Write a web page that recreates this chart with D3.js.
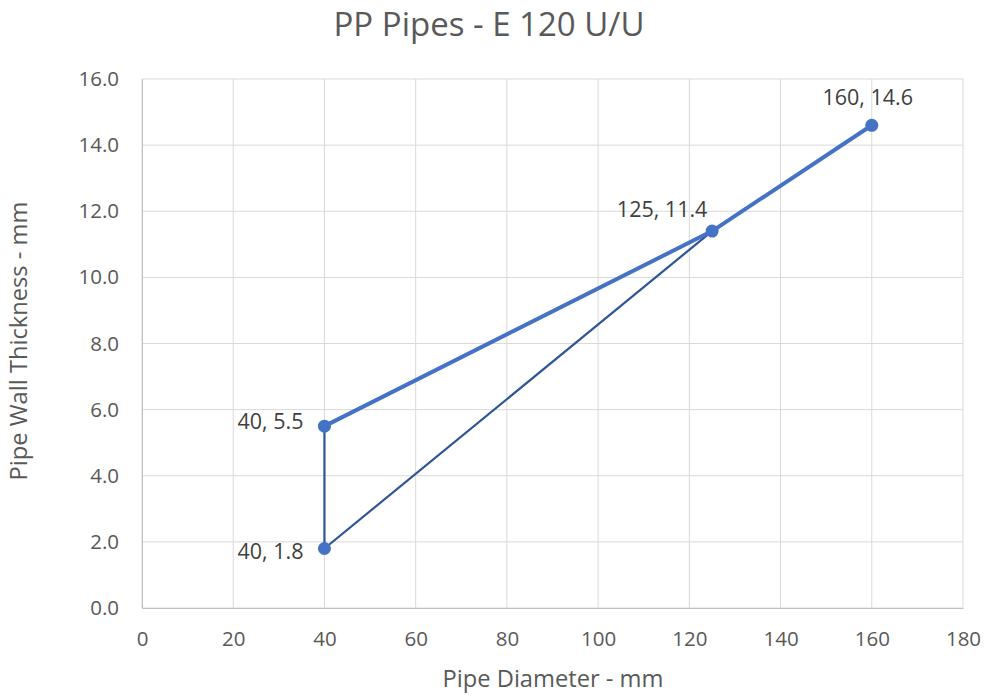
<!DOCTYPE html>
<html><head><meta charset="utf-8">
<script src="https://cdn.jsdelivr.net/npm/d3@7"></script>
<style>body{margin:0;background:#fff}</style>
</head><body><svg id="c" width="986" height="697"></svg>
<script>
const title = "PP Pipes - E 120 U/U";
const xTitle = "Pipe Diameter - mm";
const yTitle = "Pipe Wall Thickness - mm";
const xTicks = [0,20,40,60,80,100,120,140,160,180];
const yTicks = [0,2,4,6,8,10,12,14,16];
const series1X = [40,125,160];
const series1Y = [5.5,11.4,14.6];
const series2X = [40,40,125];
const series2Y = [5.5,1.8,11.4];
const labelX = [40,40,125,160];
const labelY = [5.5,1.8,11.4,14.6];

const svg = d3.select("#c");
const font = "'Open Sans', 'Liberation Sans', sans-serif";
const L=142, R=963, T=79, B=608;
const x = d3.scaleLinear().domain([0,180]).range([L,R]);
const y = d3.scaleLinear().domain([0,16]).range([B,T]);

// gridlines
svg.append("g").selectAll("line").data(xTicks).join("line")
  .attr("x1",d=>x(d)).attr("x2",d=>x(d)).attr("y1",T).attr("y2",B)
  .attr("stroke","#d9d9d9").attr("stroke-width",1);
svg.append("g").selectAll("line").data(yTicks).join("line")
  .attr("x1",L).attr("x2",R).attr("y1",d=>y(d)).attr("y2",d=>y(d))
  .attr("stroke","#d9d9d9").attr("stroke-width",1);

// axes
const xa = svg.append("g").attr("transform",`translate(0,${B})`)
  .call(d3.axisBottom(x).tickValues(xTicks).tickSize(0).tickPadding(23));
xa.select(".domain").attr("stroke","#bfbfbf");
xa.selectAll("text").attr("font-family",font).attr("font-size",20.5).attr("fill","#595959");
const ya = svg.append("g").attr("transform",`translate(${L},0)`)
  .call(d3.axisLeft(y).tickValues(yTicks).tickFormat(d3.format(".1f")).tickSize(0).tickPadding(23));
ya.select(".domain").attr("stroke","#bfbfbf");
ya.selectAll("text").attr("font-family",font).attr("font-size",20.5).attr("fill","#595959");

// lines
const line = d3.line().x(d=>x(d[0])).y(d=>y(d[1]));
const s2 = series2X.map((v,i)=>[v,series2Y[i]]);
const s1 = series1X.map((v,i)=>[v,series1Y[i]]);
svg.append("path").datum(s2).attr("d",line).attr("fill","none")
  .attr("stroke","#2f5597").attr("stroke-width",2.2).attr("stroke-linejoin","round");
svg.append("path").datum(s1).attr("d",line).attr("fill","none")
  .attr("stroke","#4472c4").attr("stroke-width",4).attr("stroke-linejoin","round");

// markers
const pts = labelX.map((v,i)=>[v,labelY[i]]);
svg.append("g").selectAll("circle").data(pts).join("circle")
  .attr("cx",d=>x(d[0])).attr("cy",d=>y(d[1])).attr("r",6.5).attr("fill","#4472c4");

// labels
const offs = [[-21,3,"end"],[-21,11,"end"],[-50,-14,"middle"],[-4,-20,"middle"]];
svg.append("g").selectAll("text").data(pts).join("text")
  .attr("x",(d,i)=>x(d[0])+offs[i][0]).attr("y",(d,i)=>y(d[1])+offs[i][1])
  .attr("text-anchor",(d,i)=>offs[i][2])
  .attr("font-family",font).attr("font-size",21.5).attr("fill","#404040")
  .text(d=>`${d[0]}, ${d[1]}`);

// titles
svg.append("text").attr("x",489).attr("y",36).attr("text-anchor","middle")
  .attr("font-family",font).attr("font-size",33).attr("fill","#595959").text(title);
svg.append("text").attr("x",553).attr("y",687).attr("text-anchor","middle")
  .attr("font-family",font).attr("font-size",23.7).attr("fill","#595959").text(xTitle);
svg.append("text").attr("transform","translate(27,341) rotate(-90)").attr("text-anchor","middle")
  .attr("font-family",font).attr("font-size",23.7).attr("fill","#595959").text(yTitle);
</script></body></html>
